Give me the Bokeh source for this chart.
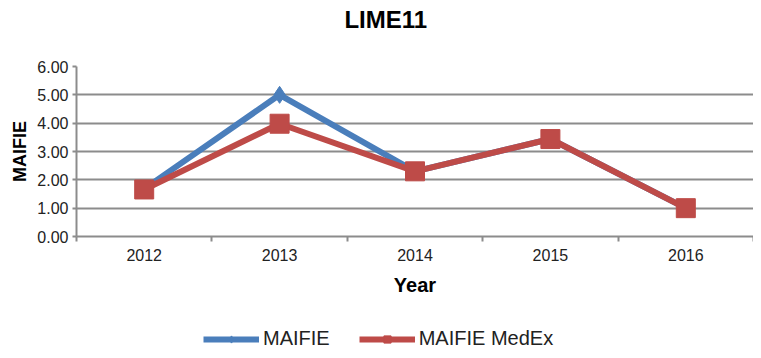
from bokeh.plotting import figure
from bokeh.layouts import column
from bokeh.models import (Range1d, FixedTicker, NumeralTickFormatter, Legend, LegendItem,
                          ColumnDataSource, Label)
from bokeh.embed import file_html
from bokeh.resources import INLINE

years = ["2012", "2013", "2014", "2015", "2016"]
maifie = [1.68, 5.00, 2.30, 3.44, 1.00]
maifie_medex = [1.66, 3.98, 2.30, 3.44, 1.00]
y_ticks = [0, 1, 2, 3, 4, 5, 6]

BLUE = "#4A7EBB"
RED = "#BE4B48"
GRID = "#8C8C8C"
FONT = "Liberation Sans"
W = 753


def strip(h, xr, yr):
    f = figure(width=W, height=h, output_backend="svg", toolbar_location=None,
               x_range=xr, y_range=yr, x_axis_type=None, y_axis_type=None,
               min_border_left=0, min_border_right=0, min_border_top=0, min_border_bottom=0)
    f.outline_line_color = None
    f.xgrid.grid_line_color = None
    f.ygrid.grid_line_color = None
    return f


# title strip
t = strip(36, Range1d(0, W), Range1d(0, 36))
t.add_layout(Label(x=344, y=17.3, text="LIME11", text_font=FONT, text_font_size="24px",
                   text_font_style="bold", text_color="#000000", text_align="center",
                   text_baseline="middle"))

xpos = [i + 0.5 for i in range(len(years))]
src = ColumnDataSource(dict(x=xpos, a=maifie, b=maifie_medex))

p = figure(width=W, height=262, output_backend="svg", toolbar_location=None,
           x_range=Range1d(0, len(years)), y_range=Range1d(0, 6),
           min_border_left=76, min_border_right=0, min_border_top=30, min_border_bottom=62)
p.outline_line_color = None

# x axis: labels at category centres, tick marks between categories
xa = p.xaxis[0]
xa.ticker = FixedTicker(ticks=xpos, minor_ticks=list(range(len(years) + 1)))
xa.major_label_overrides = {x: y for x, y in zip(xpos, years)}
xa.major_tick_line_color = None
xa.minor_tick_line_color = GRID
xa.minor_tick_line_width = 2
xa.minor_tick_out = 5
xa.minor_tick_in = 0
xa.axis_line_color = GRID
xa.axis_line_width = 2
xa.major_label_text_font = FONT
xa.major_label_text_font_size = "16px"
xa.major_label_text_color = "#222222"
xa.major_label_standoff = 6
xa.axis_label = "Year"
xa.axis_label_text_font = FONT
xa.axis_label_text_font_size = "20px"
xa.axis_label_text_font_style = "bold"
xa.axis_label_text_color = "#000000"
xa.axis_label_standoff = 10

ya = p.yaxis[0]
ya.ticker = FixedTicker(ticks=y_ticks)
ya.formatter = NumeralTickFormatter(format="0.00")
ya.major_tick_line_color = GRID
ya.major_tick_line_width = 2
ya.major_tick_out = 4
ya.major_tick_in = 0
ya.minor_tick_line_color = None
ya.axis_line_color = GRID
ya.axis_line_width = 2
ya.major_label_text_font = FONT
ya.major_label_text_font_size = "16px"
ya.major_label_text_color = "#222222"
ya.major_label_standoff = 4
ya.axis_label = "MAIFIE"
ya.axis_label_text_font = FONT
ya.axis_label_text_font_size = "18px"
ya.axis_label_text_font_style = "bold"
ya.axis_label_text_color = "#000000"
ya.axis_label_standoff = 4

p.xgrid.grid_line_color = None
p.ygrid.ticker = FixedTicker(ticks=y_ticks)
p.ygrid.grid_line_color = GRID
p.ygrid.grid_line_width = 2

p.line("x", "a", source=src, line_color=BLUE, line_width=6)
p.scatter("x", "a", source=src, marker="diamond", size=17, fill_color=BLUE, line_color=BLUE)
p.line("x", "b", source=src, line_color=RED, line_width=6)
p.scatter("x", "b", source=src, marker="square", size=19, fill_color=RED, line_color=RED)

# legend strip below the chart; its renderers use the same data but lie outside its view
q = strip(52, Range1d(0, len(years)), Range1d(-20, -10))
k1 = q.line("x", "a", source=src, line_color=BLUE, line_width=6)
k1m = q.scatter("x", "a", source=src, marker="diamond", size=12, fill_color=BLUE, line_color=BLUE)
k2 = q.line("x", "b", source=src, line_color=RED, line_width=6)
k2m = q.scatter("x", "b", source=src, marker="square", size=14, fill_color=RED, line_color=RED)

legend = Legend(items=[LegendItem(label="MAIFIE", renderers=[k1, k1m]),
                       LegendItem(label="MAIFIE MedEx", renderers=[k2, k2m])],
                orientation="horizontal", location=(127, 0),
                label_text_font=FONT, label_text_font_size="20px", label_text_color="#222222",
                glyph_width=56, glyph_height=18, label_height=18, label_standoff=4,
                spacing=29, padding=0, margin=0, border_line_color=None,
                background_fill_alpha=0)
q.add_layout(legend, "center")

layout = column(t, p, q, spacing=0)
open("out.html", "w").write(file_html(layout, INLINE))
